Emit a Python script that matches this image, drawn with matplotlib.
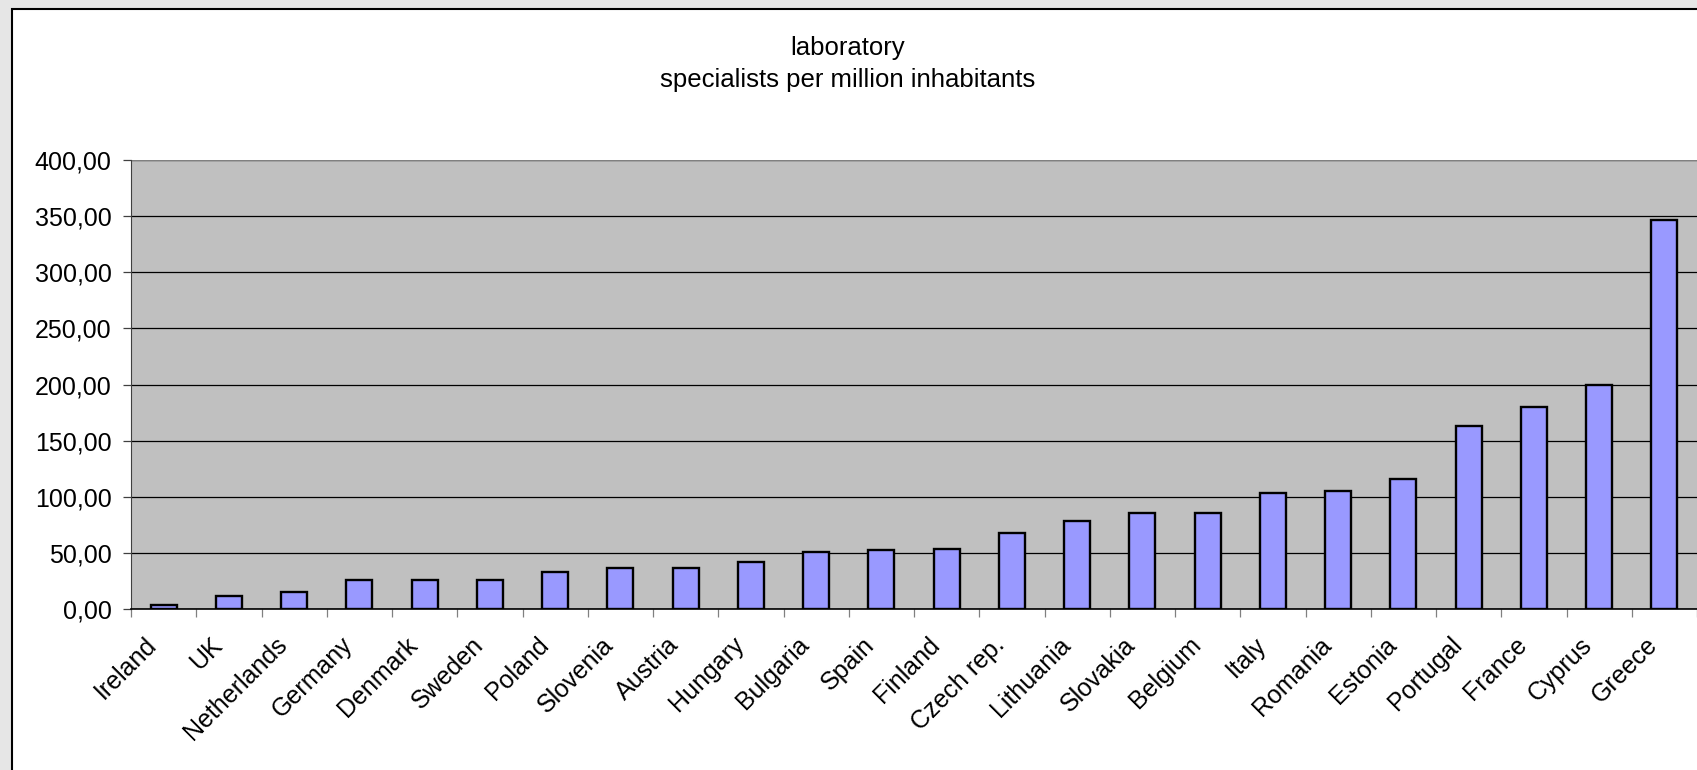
import matplotlib
matplotlib.use("Agg")
import matplotlib.pyplot as plt
from matplotlib.patches import Rectangle
from matplotlib.ticker import FuncFormatter, MultipleLocator
from matplotlib.transforms import ScaledTranslation

countries = ["Ireland", "UK", "Netherlands", "Germany", "Denmark", "Sweden",
             "Poland", "Slovenia", "Austria", "Hungary", "Bulgaria", "Spain",
             "Finland", "Czech rep.", "Lithuania", "Slovakia", "Belgium", "Italy",
             "Romania", "Estonia", "Portugal", "France", "Cyprus", "Greece"]
specialists = [3.3, 11.8, 15.4, 25.8, 25.8, 25.8,
               33.2, 36.5, 36.5, 41.9, 50.8, 52.3,
               53.7, 68.0, 78.4, 85.8, 85.8, 103.3,
               105.1, 115.5, 162.8, 180.0, 199.3, 346.3]

W, H = 1697, 770
plt.rcParams["font.family"] = ["Liberation Sans", "DejaVu Sans"]
fig = plt.figure(figsize=(W / 100, H / 100), dpi=100)
fig.patch.set_facecolor("#e6e6e6")

# white chart area, runs off the right and bottom edges
fig.add_artist(Rectangle((11.5 / W, -0.05), 1.1, 1 - 8.5 / H + 0.05,
                         transform=fig.transFigure, facecolor="white",
                         edgecolor="black", lw=1.5, zorder=0))

ax = fig.add_axes([131 / W, (H - 609) / H, (W - 131) / W, 449 / H])
ax.set_facecolor("#c0c0c0")
ax.set_zorder(1)

x = range(len(countries))
ax.bar(x, specialists, width=0.4, color="#9999ff", edgecolor="black", lw=1.7, zorder=3)

ax.set_ylim(0, 400)
ax.set_xlim(-0.5, len(countries) - 0.5)
ax.yaxis.set_major_locator(MultipleLocator(50))
ax.yaxis.set_major_formatter(FuncFormatter(lambda v, p: f"{v:.2f}".replace(".", ",")))
ax.grid(axis="y", color="black", lw=0.9, zorder=1)
ax.set_axisbelow(True)

for s in ["top", "right"]:
    ax.spines[s].set_visible(False)
ax.spines["left"].set_color("#404040")
ax.spines["bottom"].set_color("black")
ax.spines["bottom"].set_linewidth(1.2)
ax.axhline(400, color="#808080", lw=1.6, zorder=2)

ax.tick_params(axis="y", length=6, width=0.9, pad=8, labelsize=18, color="#404040")
ax.set_xticks(list(x))
ax.set_xticklabels(countries, rotation=45, ha="right", va="top",
                   rotation_mode="anchor", fontsize=18)
ax.tick_params(axis="x", which="major", length=0, pad=17)
shift = ScaledTranslation(-19 / 100, 0, fig.dpi_scale_trans)
for lab in ax.get_xticklabels():
    lab.set_transform(lab.get_transform() + shift)
ax.set_xticks([i - 0.5 for i in range(len(countries) + 1)], minor=True)
ax.tick_params(axis="x", which="minor", length=6, width=0.9, color="#808080")

fig.text(848 / W, 1 - 64 / H, "laboratory\nspecialists per million inhabitants",
         ha="center", va="center", fontsize=18.5, linespacing=1.4)

fig.savefig("out.png", dpi=100, facecolor=fig.get_facecolor())
